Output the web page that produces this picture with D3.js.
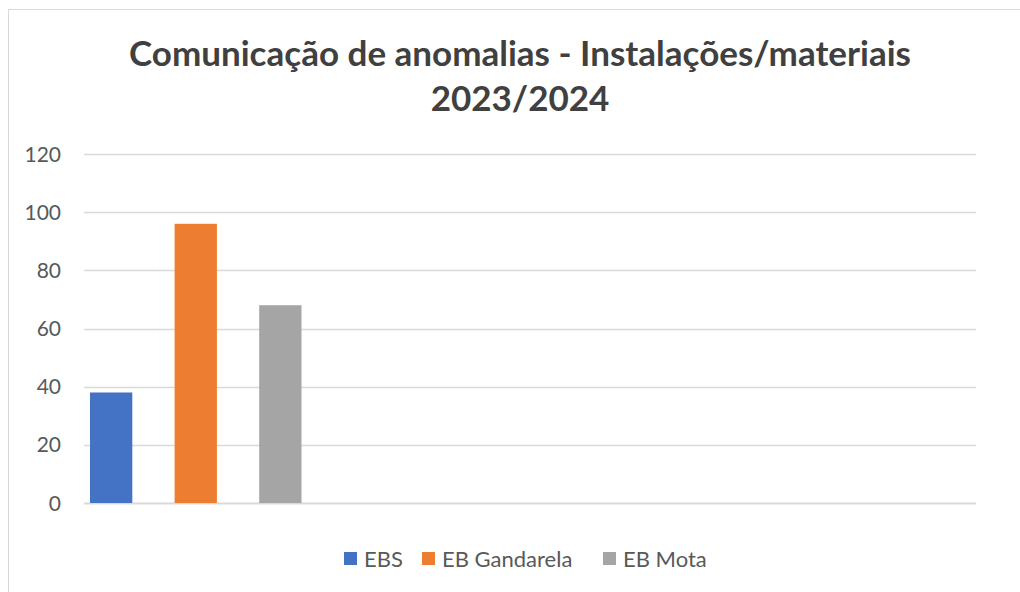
<!DOCTYPE html>
<html>
<head>
<meta charset="utf-8">
<script src="https://cdn.jsdelivr.net/npm/d3@7"></script>
<style>
  body { margin: 0; background: #fff; }
  svg { display: block; font-family: Lato, "Open Sans", sans-serif; }
</style>
</head>
<body>
<svg id="container" width="1020" height="592"></svg>
<script>
const series = ['EBS', 'EB Gandarela', 'EB Mota'];
const values = [38, 96, 68];
const colors = ['#4472c4', '#ed7d31', '#a5a5a5'];
const yTicks = [0, 20, 40, 60, 80, 100, 120];
const titleLines = ['Comunicação de anomalias - Instalações/materiais', '2023/2024'];

const svg = d3.select('#container');

// chart frame (only top/left edges fall inside the picture)
svg.append('rect')
  .attr('x', 8.5).attr('y', 9.5)
  .attr('width', 1100).attr('height', 700)
  .attr('fill', 'none')
  .attr('stroke', '#d9d9d9');

const plot = { left: 84, right: 976, top: 154, bottom: 503 };

const y = d3.scaleLinear().domain([0, 120]).range([plot.bottom, plot.top]);
const x = d3.scaleBand()
  .domain(series)
  .range([90, 301.5])
  .paddingInner(0.5)
  .paddingOuter(0);

// gridlines
svg.append('g')
  .selectAll('line')
  .data(yTicks)
  .join('line')
  .attr('x1', plot.left)
  .attr('x2', plot.right)
  .attr('y1', (d) => Math.round(y(d)) + 0.5)
  .attr('y2', (d) => Math.round(y(d)) + 0.5)
  .attr('stroke', '#d9d9d9')
  .attr('stroke-width', (d) => (d === 0 ? 2 : 1.3));

// y labels
svg.append('g')
  .selectAll('text')
  .data(yTicks)
  .join('text')
  .attr('x', 61)
  .attr('y', (d) => y(d))
  .attr('dy', '0.36em')
  .attr('text-anchor', 'end')
  .attr('font-size', 21)
  .attr('fill', '#595959')
  .text((d) => d);

// bars
svg.append('g')
  .selectAll('rect')
  .data(values)
  .join('rect')
  .attr('x', (d, i) => x(series[i]))
  .attr('width', x.bandwidth())
  .attr('y', (d) => y(d))
  .attr('height', (d) => y(0) - y(d))
  .attr('fill', (d, i) => colors[i]);

// title
svg.append('text')
  .attr('text-anchor', 'middle')
  .attr('font-size', 35)
  .attr('font-weight', 'bold')
  .attr('fill', '#404040')
  .selectAll('tspan')
  .data(titleLines)
  .join('tspan')
  .attr('x', 520)
  .attr('y', (d, i) => 66 + i * 45)
  .text((d) => d);

// legend
const legendX = [344, 422, 603];
const legend = svg.append('g')
  .selectAll('g')
  .data(series)
  .join('g')
  .attr('transform', (d, i) => `translate(${legendX[i]},552)`);

legend.append('rect')
  .attr('width', 13)
  .attr('height', 13)
  .attr('fill', (d, i) => colors[i]);

legend.append('text')
  .attr('x', 20)
  .attr('y', 7)
  .attr('dy', '0.36em')
  .attr('font-size', 22)
  .attr('fill', '#595959')
  .text((d) => d);
</script>
</body>
</html>
